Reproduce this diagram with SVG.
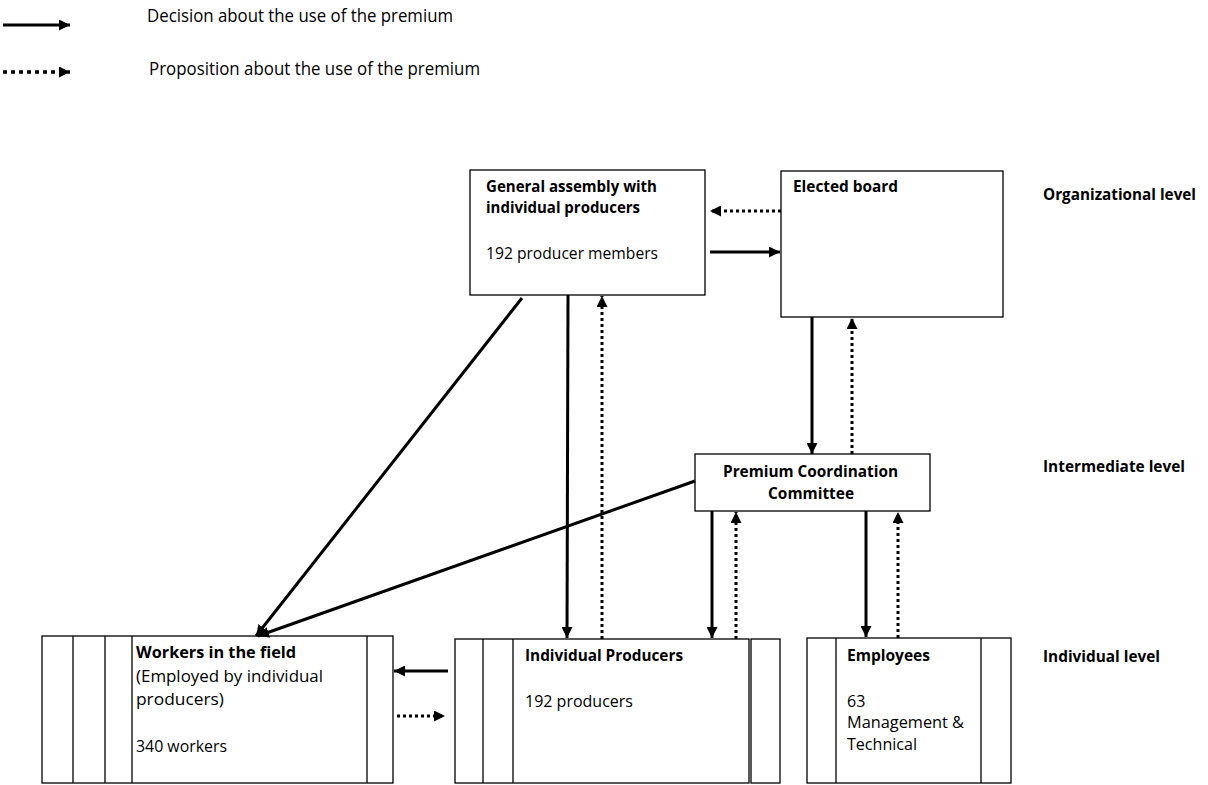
<svg xmlns="http://www.w3.org/2000/svg" width="1208" height="785" viewBox="0 0 1208 785">
<style>
  text { font-family: "Open Sans", "Noto Sans", "Liberation Sans", sans-serif; fill: #000; }
  .b { font-weight: bold; }
  .t { font-size: 16px; }
  .lg { font-size: 17.5px; }
  .box { fill: #fff; stroke: #000; stroke-width: 1.3; }
  .sep { stroke: #000; stroke-width: 1.3; fill: none; }
  .solid { stroke: #000; stroke-width: 3; fill: none; marker-end: url(#ah); }
  .dot { stroke: #000; stroke-width: 3; fill: none; stroke-dasharray: 3 3; marker-end: url(#ah); }
  .dotlg { stroke: #000; stroke-width: 3.5; fill: none; stroke-dasharray: 4 4; marker-end: url(#ah); }
</style>
<defs>
  <marker id="ah" viewBox="0 0 11 11" refX="11" refY="5.5" markerWidth="11" markerHeight="11" orient="auto" markerUnits="userSpaceOnUse">
    <path d="M0,0 L11,5.5 L0,11 z" fill="#000"/>
  </marker>
</defs>
<rect width="1208" height="785" fill="#fff"/>

<g id="legend">
  <line class="solid" x1="3" y1="25" x2="70" y2="25"/>
  <text class="lg" x="147" y="22" textLength="306" lengthAdjust="spacingAndGlyphs">Decision about the use of the premium</text>
  <line class="dotlg" x1="3" y1="72" x2="70" y2="72"/>
  <text class="lg" x="149" y="75" textLength="331" lengthAdjust="spacingAndGlyphs">Proposition about the use of the premium</text>
</g>

<g id="levels">
  <text class="t b" x="1043" y="200" textLength="153" lengthAdjust="spacingAndGlyphs">Organizational level</text>
  <text class="t b" x="1043" y="472" textLength="142" lengthAdjust="spacingAndGlyphs">Intermediate level</text>
  <text class="t b" x="1043" y="662" textLength="117" lengthAdjust="spacingAndGlyphs">Individual level</text>
</g>

<g id="general-assembly">
  <rect class="box" x="470" y="170" width="235" height="125"/>
  <text class="t b" x="486" y="192" textLength="171" lengthAdjust="spacingAndGlyphs">General assembly with</text>
  <text class="t b" x="486" y="213" textLength="154" lengthAdjust="spacingAndGlyphs">individual producers</text>
  <text class="t" x="486" y="259" textLength="172" lengthAdjust="spacingAndGlyphs">192 producer members</text>
</g>

<g id="elected-board">
  <rect class="box" x="781" y="171" width="222" height="146"/>
  <text class="t b" x="793" y="192" textLength="105" lengthAdjust="spacingAndGlyphs">Elected board</text>
</g>

<g id="premium-committee">
  <rect class="box" x="695" y="454" width="235" height="57"/>
  <text class="t b" x="723" y="477" textLength="175" lengthAdjust="spacingAndGlyphs">Premium Coordination</text>
  <text class="t b" x="768" y="499" textLength="86" lengthAdjust="spacingAndGlyphs">Committee</text>
</g>

<g id="workers">
  <rect class="box" x="42" y="636" width="351" height="147"/>
  <line class="sep" x1="73" y1="636" x2="73" y2="783"/>
  <line class="sep" x1="105" y1="636" x2="105" y2="783"/>
  <line class="sep" x1="132" y1="636" x2="132" y2="783"/>
  <line class="sep" x1="367" y1="636" x2="367" y2="783"/>
  <text class="t b" x="136" y="658" textLength="160" lengthAdjust="spacingAndGlyphs">Workers in the field</text>
  <text class="t" x="136" y="682" textLength="187" lengthAdjust="spacingAndGlyphs">(Employed by individual</text>
  <text class="t" x="136" y="705" textLength="88" lengthAdjust="spacingAndGlyphs">producers)</text>
  <text class="t" x="136" y="752" textLength="91" lengthAdjust="spacingAndGlyphs">340 workers</text>
</g>

<g id="producers">
  <rect class="box" x="455" y="639" width="294" height="144"/>
  <rect class="box" x="751" y="639" width="29" height="144"/>
  <line class="sep" x1="483" y1="639" x2="483" y2="783"/>
  <line class="sep" x1="513" y1="639" x2="513" y2="783"/>
  <text class="t b" x="525" y="661" textLength="158" lengthAdjust="spacingAndGlyphs">Individual Producers</text>
  <text class="t" x="525" y="707" textLength="108" lengthAdjust="spacingAndGlyphs">192 producers</text>
</g>

<g id="employees">
  <rect class="box" x="807" y="638" width="204" height="145"/>
  <line class="sep" x1="836" y1="638" x2="836" y2="783"/>
  <line class="sep" x1="981" y1="638" x2="981" y2="783"/>
  <text class="t b" x="847" y="661" textLength="83" lengthAdjust="spacingAndGlyphs">Employees</text>
  <text class="t" x="847" y="707">63</text>
  <text class="t" x="847" y="728" textLength="117" lengthAdjust="spacingAndGlyphs">Management &amp;</text>
  <text class="t" x="847" y="750" textLength="70" lengthAdjust="spacingAndGlyphs">Technical</text>
</g>

<g id="connectors">
  <line class="dot" x1="781" y1="211" x2="710" y2="211"/>
  <line class="solid" x1="710" y1="252" x2="780" y2="252"/>
  <line class="solid" x1="812" y1="317" x2="812" y2="454"/>
  <line class="dot" x1="852" y1="454" x2="852" y2="318"/>
  <line class="solid" x1="568" y1="295" x2="567" y2="638"/>
  <line class="dot" x1="602" y1="639" x2="602" y2="296"/>
  <line class="solid" x1="522" y1="298" x2="256" y2="636"/>
  <line class="solid" x1="695" y1="481" x2="258" y2="636"/>
  <line class="solid" x1="712" y1="511" x2="712" y2="638"/>
  <line class="dot" x1="736" y1="639" x2="736" y2="512"/>
  <line class="solid" x1="866" y1="511" x2="866" y2="637"/>
  <line class="dot" x1="898" y1="638" x2="898" y2="512"/>
  <line class="solid" x1="448" y1="671" x2="394" y2="671"/>
  <line class="dot" x1="397" y1="716" x2="445" y2="716"/>
</g>
</svg>
